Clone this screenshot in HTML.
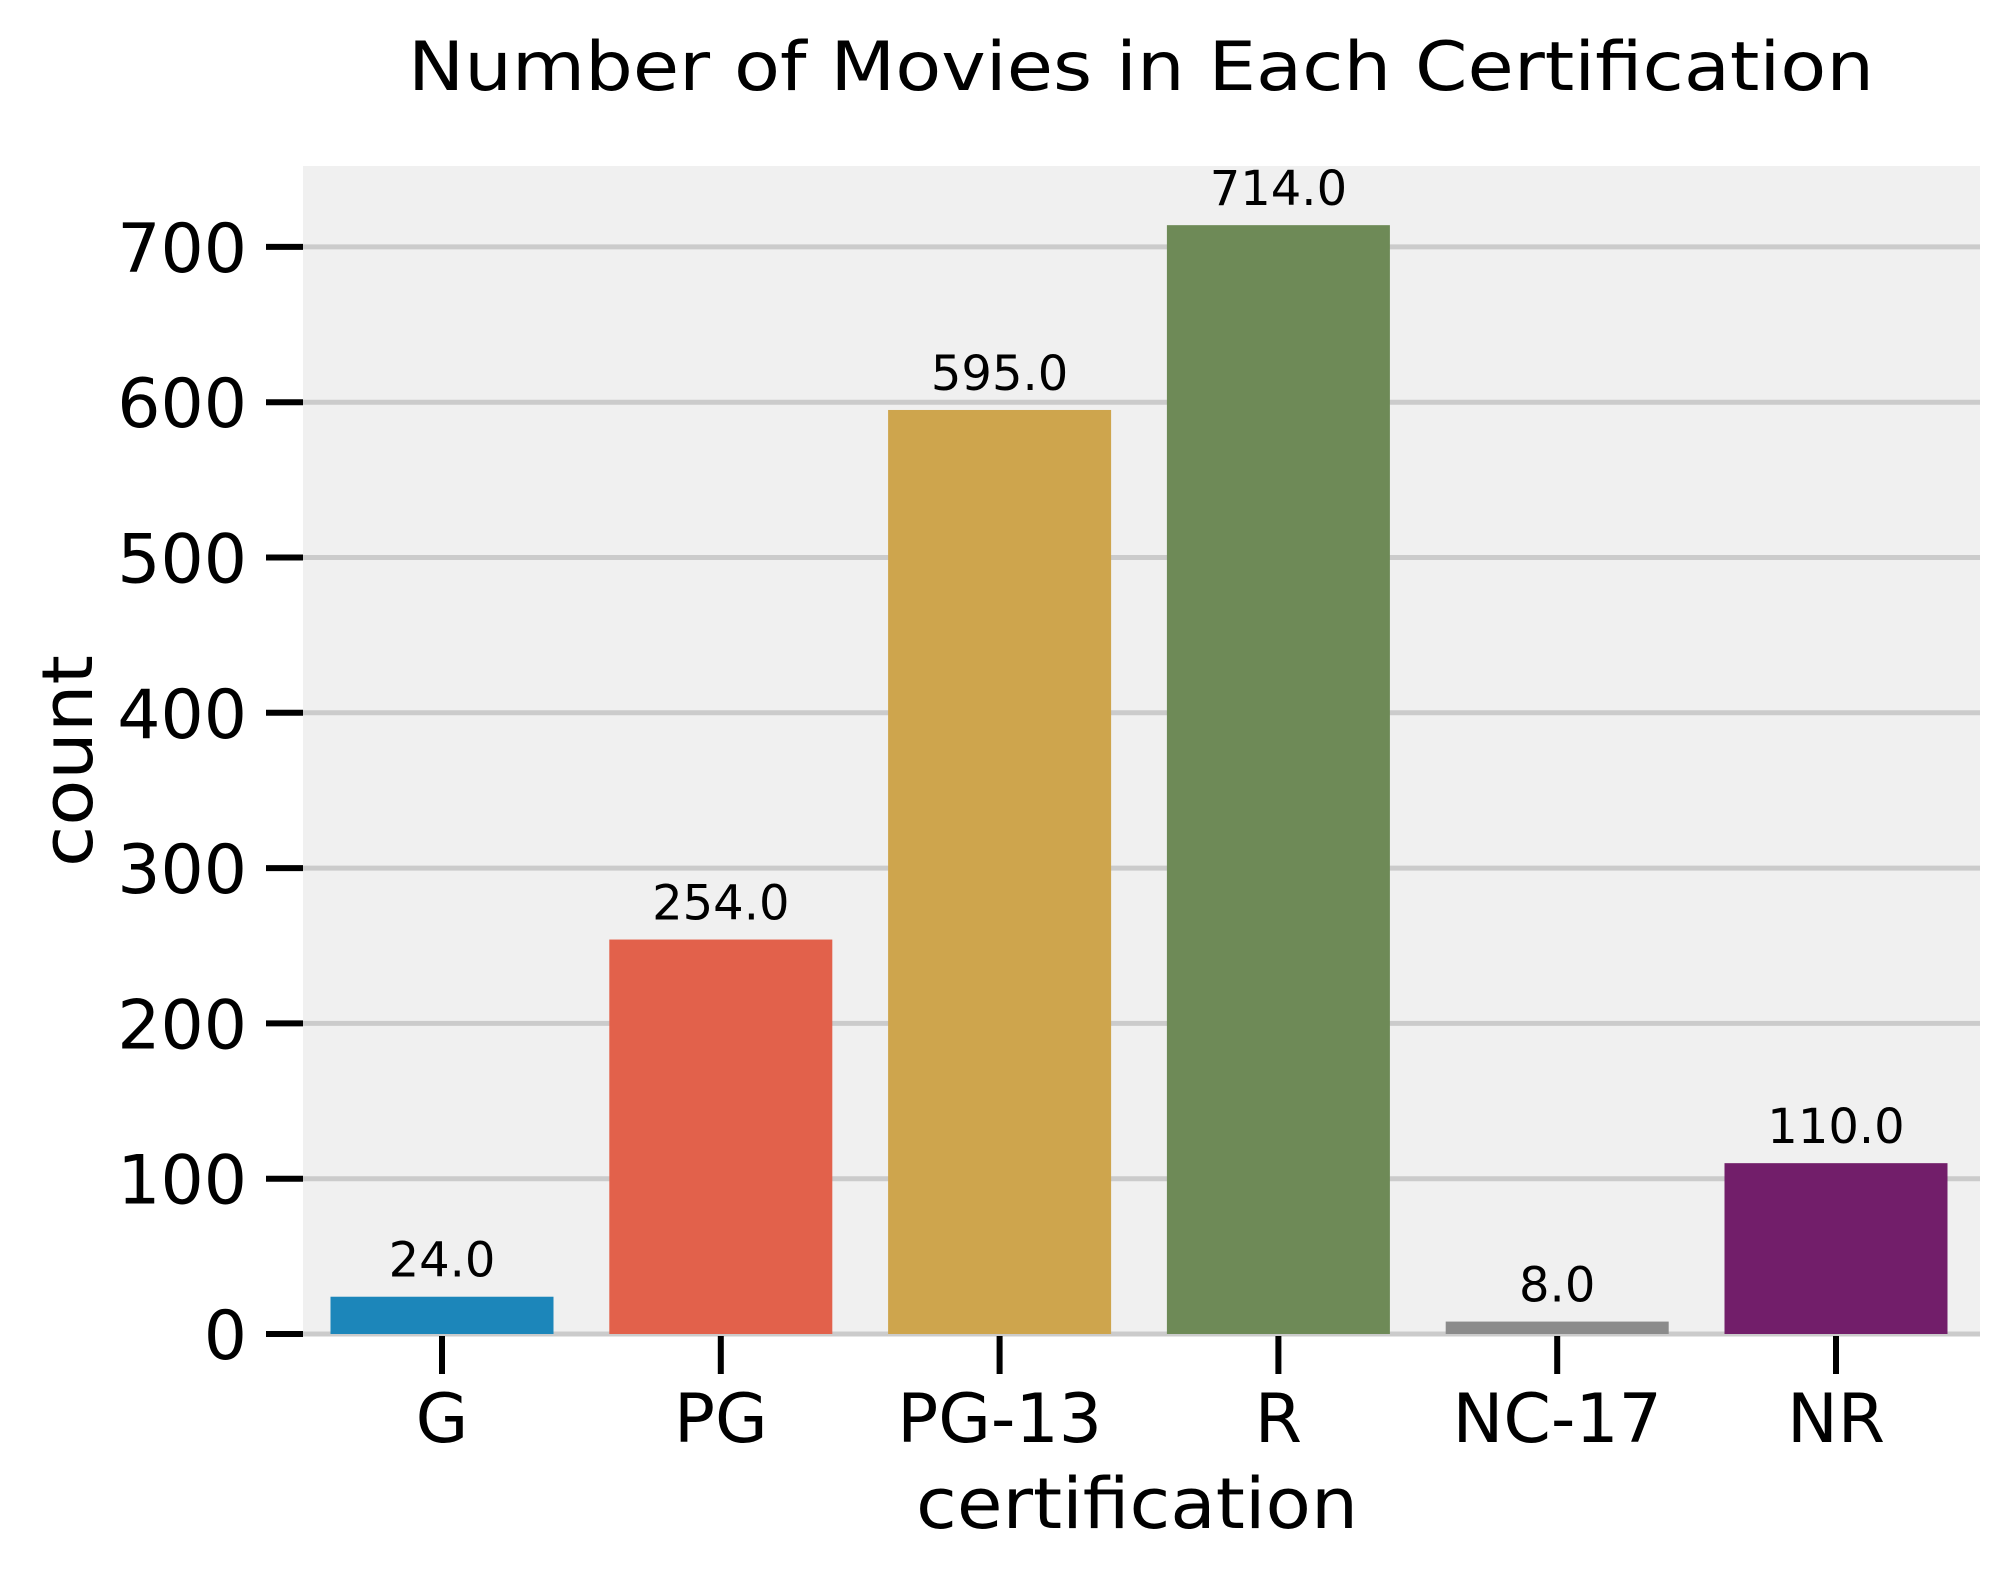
<!DOCTYPE html>
<html><head><meta charset="utf-8"><style>
html,body{margin:0;padding:0;background:#fff}
svg{display:block;font-family:"DejaVu Sans","Liberation Sans",sans-serif}
</style></head><body>
<svg id="chart" width="2003" height="1575" viewBox="0 0 2003 1575">
<rect x="303" y="166" width="1677" height="1168" fill="#f0f0f0"/>
<g id="grid"></g><g id="bars"></g><g id="axes"></g>
<text x="1141" y="90" font-size="68" text-anchor="middle" textLength="1466" lengthAdjust="spacingAndGlyphs">Number of Movies in Each Certification</text>
<text x="1137" y="1528" font-size="70" text-anchor="middle" textLength="442" lengthAdjust="spacingAndGlyphs">certification</text>
<text x="0" y="0" font-size="70" text-anchor="middle" transform="translate(92,761) rotate(-90)" textLength="212" lengthAdjust="spacingAndGlyphs">count</text>
</svg>
<script>
const categories = ["G","PG","PG-13","R","NC-17","NR"];
const counts = [24,254,595,714,8,110];
const yTicks = [0,100,200,300,400,500,600,700];
const colors = ["#1c86ba","#e2614b","#cea54d","#6e8a57","#8b8b8b","#721e6a"];
const NS="http://www.w3.org/2000/svg";
const y0=1334, pxPer=155.3/100, x0=442, step=278.8, bw=223;
const yS=v=>y0-v*pxPer, xS=i=>x0+i*step;
function mk(t,a,p){const e=document.createElementNS(NS,t);for(const k in a)e.setAttribute(k,a[k]);p.appendChild(e);return e;}
const grid=document.getElementById('grid'),bars=document.getElementById('bars'),axes=document.getElementById('axes');
yTicks.forEach(v=>{
 const g=mk('line',{x1:303,x2:1980,y1:yS(v),y2:yS(v),stroke:'#cbcbcb','stroke-width':5},grid);
 
 
 const t=mk('line',{x1:266,x2:303,y1:yS(v),y2:yS(v),stroke:'#000','stroke-width':6},axes);
 
 
 const l=mk('text',{x:247,y:yS(v)+25,'font-size':68,'text-anchor':'end'},axes);
 l.textContent=v;
 
 
});
categories.forEach((c,i)=>{
 const r=mk('rect',{x:xS(i)-bw/2,y:yS(counts[i]),width:bw,height:counts[i]*pxPer,fill:colors[i]},bars);
 
 
 const a=mk('text',{x:xS(i),y:yS(counts[i])-20,'font-size':48,'text-anchor':'middle'},bars);
 a.textContent=counts[i].toFixed(1);
 
 
 const t=mk('line',{x1:xS(i),x2:xS(i),y1:1336,y2:1374,stroke:'#000','stroke-width':6},axes);
 
 
 const l=mk('text',{x:xS(i),y:1442,'font-size':68,'text-anchor':'middle'},axes);
 l.textContent=c;
 
 
});
</script>
</body></html>
